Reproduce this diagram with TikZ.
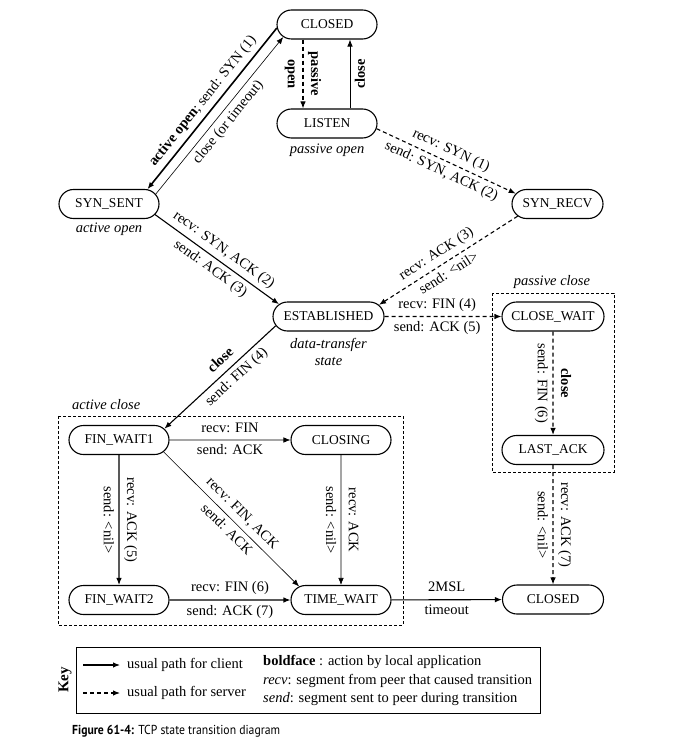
\documentclass[tikz,border=0pt]{standalone}
\usepackage{fontspec}
\setmainfont{Liberation Serif}
\newfontfamily\capfont[FakeStretch=0.9]{PT Sans}
\usetikzlibrary{shapes.misc,arrows.meta}

\begin{document}
\begin{tikzpicture}[x=1pt,y=-1pt,
  state/.style={rounded rectangle, draw, line width=1.1pt, minimum height=29pt,
    minimum width=104pt, inner sep=2pt, font=\fontsize{13.5}{16}\selectfont},
  lab/.style={font=\fontsize{14.5}{17}\selectfont, inner sep=4.5pt,
    text height=10pt, text depth=3pt},
  % labels on downward vertical transitions, read top to bottom
  vright/.style={lab, rotate=-90, anchor=south},
  vleft/.style={lab, rotate=-90, anchor=north},
  note/.style={font=\fontsize{14.5}{17}\selectfont\itshape, align=center, inner sep=1pt},
  keytext/.style={font=\fontsize{14.5}{17}\selectfont, anchor=west, inner sep=0pt,
    text height=10pt, text depth=3pt},
  tip/.style={-{Latex[length=7pt,width=5.5pt]}},
  client/.style={tip, line width=1.1pt},
  server/.style={tip, line width=1.1pt, dash pattern=on 4pt off 3pt},
  thinpath/.style={tip, line width=0.6pt},
  group/.style={draw, line width=0.7pt, dash pattern=on 3pt off 2pt},
]
\useasboundingbox (0,0) rectangle (674,746);

% states
\node[state] (closedA) at (327,24.5) {CLOSED};
\node[state] (listen) at (327,123.5) {LISTEN};
\node[state] (synsent) at (109,204) {SYN\_SENT};
\node[state, minimum width=95pt] (synrecv) at (557.5,204) {SYN\_RECV};
\node[state, minimum width=115pt] (estab) at (328.5,316.5) {ESTABLISHED};
\node[state, minimum width=106pt] (closewait) at (553,316.5) {CLOSE\_WAIT};
\node[state, minimum width=106pt] (lastack) at (553,450) {LAST\_ACK};
\node[state] (finwait1) at (119,440) {FIN\_WAIT1};
\node[state] (closing) at (341,440) {CLOSING};
\node[state] (finwait2) at (119,600) {FIN\_WAIT2};
\node[state] (timewait) at (341,600) {TIME\_WAIT};
\node[state, minimum width=105pt] (closedB) at (553,599.5) {CLOSED};

% state annotations
\node[note] (aopen) at (109,229) {active open};
\node[note] (popen) at (327,150) {passive open};
\node[note] (dts) at (328.5,352) {data-transfer\\state};
\node[note, anchor=west] (aclose) at (71,405) {active close};
\node[note] (pclose) at (552,282) {passive close};

% groups of closing states
\draw[group] (58,416) rectangle (403,625);
\draw[group] (492,293) rectangle (614,472);

% transitions
\draw[client, line width=1.6pt] (closedA.184) --
  node[lab, sloped, above] {\textbf{active open}; send: SYN (1)} (synsent.21);
\draw[thinpath] (synsent.12.6) --
  node[lab, sloped, below] {close (or timeout)} (closedA.196);
\draw[server] ([xshift=-24pt]closedA.south) --
  node[vright] {\textbf{passive}}
  node[vleft] {\textbf{open}} ([xshift=-24pt]listen.north);
\draw[tip, line width=0.8pt] ([xshift=23pt]listen.north) --
  node[lab, rotate=90, anchor=north] {\textbf{close}} ([xshift=23pt]closedA.south);
\draw[server] (listen.-6) --
  node[lab, sloped, above] {recv: SYN (1)}
  node[lab, sloped, below] {send: SYN, ACK (2)} (synrecv.166);
\draw[client] (synsent.-13.4) --
  node[lab, sloped, above] {recv: SYN, ACK (2)}
  node[lab, sloped, below] {send: ACK (3)} (estab.166.3);
\draw[server] (synrecv.197.8) --
  node[lab, sloped, above, pos=0.54] {recv: ACK (3)}
  node[lab, sloped, below, pos=0.54] {send: <nil>} (estab.13.9);
\draw[server] (estab) --
  node[lab, above, pos=0.45] {recv: FIN (4)}
  node[lab, below, pos=0.45] {send: ACK (5)} (closewait);
\draw[server] (closewait) --
  node[vright] {\textbf{close}}
  node[vleft] {send: FIN (6)} (lastack);
\draw[server] (lastack) --
  node[vright] {recv: ACK (7)}
  node[vleft] {send: <nil>} (closedB);
\draw[client] (estab.190.7) --
  node[lab, sloped, above, pos=0.42] {\textbf{close}}
  node[lab, sloped, below, pos=0.42] {send: FIN (4)} (finwait1.14.9);
\draw[thinpath] (finwait1) --
  node[lab, above] {recv: FIN}
  node[lab, below] {send: ACK} (closing);
\draw[client] (finwait1) --
  node[vright] {recv: ACK (5)}
  node[vleft] {send: <nil>} (finwait2);
\draw[thinpath] (finwait1.-15.8) --
  node[lab, sloped, above, pos=0.52] {recv: FIN, ACK}
  node[lab, sloped, below, pos=0.52] {send: ACK} (timewait.162.6);
\draw[thinpath] (closing) --
  node[vright] {recv: ACK}
  node[vleft] {send: <nil>} (timewait);
\draw[client] (finwait2) --
  node[lab, above] {recv: FIN (6)}
  node[lab, below] {send: ACK (7)} (timewait);
\draw[client] (timewait) --
  node[lab, above] {2MSL}
  node[lab, below] {timeout} (closedB);

% key
\draw[line width=0.8pt] (76,647) rectangle (540,713);
\node[font=\fontsize{15}{18}\selectfont\bfseries, rotate=90] (keyt) at (65,680) {Key};
\coordinate (k1a) at (83,665);
\coordinate (k1b) at (120,665);
\coordinate (k2a) at (83,693);
\coordinate (k2b) at (120,693);
\draw[client] (k1a) -- (k1b);
\draw[server] (k2a) -- (k2b);
\node[keytext] (kc) at (127,665) {usual path for client};
\node[keytext] (ks) at (127,693) {usual path for server};
\node[keytext] (kb) at (263,662) {\textbf{boldface} : action by local application};
\node[keytext] (kr) at (263,681) {\textit{recv}: segment from peer that caused transition};
\node[keytext] (kd) at (263,699) {\textit{send}: segment sent to peer during transition};

% caption
\node[anchor=base west, inner sep=0pt, font=\capfont\fontsize{13}{15}\selectfont] (cap)
  at (72,734) {\textbf{Figure 61-4:} TCP state transition diagram};
\end{tikzpicture}
\end{document}
